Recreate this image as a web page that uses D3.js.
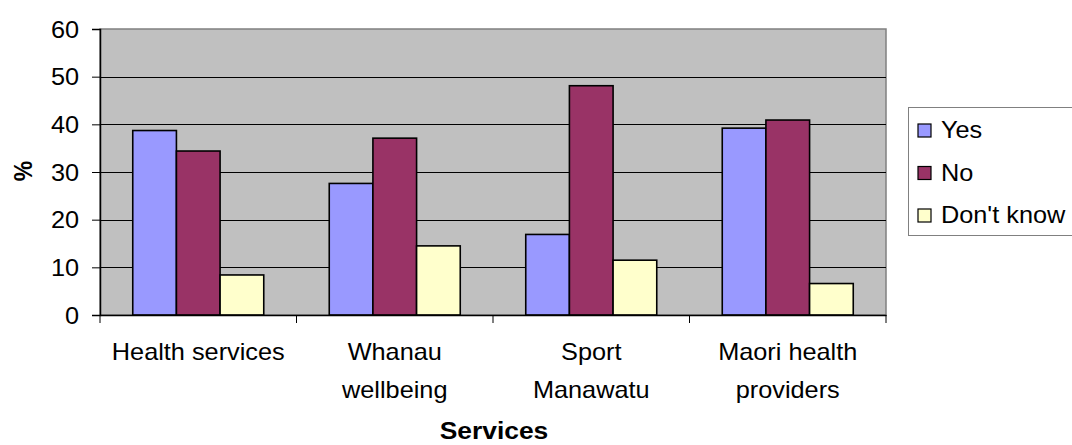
<!DOCTYPE html>
<html>
<head>
<meta charset="utf-8">
<script src="https://cdn.jsdelivr.net/npm/d3@7"></script>
<style>
  html, body { margin: 0; padding: 0; background: #fff; }
  svg text { font-family: "Liberation Sans", Arial, sans-serif; fill: #000; }
</style>
</head>
<body>
<svg id="chart" width="1072" height="445"></svg>
<script>
// Survey responses (%) by service
const categories = ["Health services", "Whanau wellbeing", "Sport Manawatu", "Maori health providers"];
const categoryLines = [["Health services"], ["Whanau", "wellbeing"], ["Sport", "Manawatu"], ["Maori health", "providers"]];
const seriesNames = ["Yes", "No", "Don't know"];
const yesValues = [38.7, 27.6, 16.9, 39.2];
const noValues = [34.4, 37.1, 48.1, 40.9];
const dontKnowValues = [8.4, 14.5, 11.5, 6.6];
const yTicks = [0, 10, 20, 30, 40, 50, 60];
const seriesColors = ["#9999FF", "#993366", "#FFFFCC"];

const series = [yesValues, noValues, dontKnowValues];
const rows = categories.map((c, i) => ({ category: c, values: series.map(s => s[i]) }));

const svg = d3.select("#chart");
const plot = { left: 100, top: 29, right: 886, bottom: 315 };
const SX = 1.1;   // horizontal text stretch
const FS = 23;    // font size

const x0 = d3.scaleBand().domain(categories).range([plot.left, plot.right]).paddingInner(0).paddingOuter(0);
// three bars take 3 of 4.5 slot units (gap width 150%)
const bw = x0.bandwidth() / 4.5;
const x1 = d3.scaleBand().domain(seriesNames).range([0.75 * bw, 3.75 * bw]).padding(0);
const y = d3.scaleLinear().domain([0, 60]).range([plot.bottom, plot.top]);

// plot background
svg.append("rect")
  .attr("x", plot.left).attr("y", plot.top)
  .attr("width", plot.right - plot.left).attr("height", plot.bottom - plot.top)
  .attr("fill", "#C0C0C0").attr("stroke", "#808080").attr("stroke-width", 1.5);

// gridlines
svg.append("g").selectAll("line")
  .data(yTicks.filter(t => t > 0 && t < 60))
  .join("line")
  .attr("x1", plot.left).attr("x2", plot.right)
  .attr("y1", d => Math.round(y(d)) + 0.5).attr("y2", d => Math.round(y(d)) + 0.5)
  .attr("stroke", "#000").attr("stroke-width", 1);

// bars
const groups = svg.append("g").selectAll("g")
  .data(rows).join("g")
  .attr("transform", d => `translate(${x0(d.category)},0)`);
groups.selectAll("rect")
  .data(d => d.values.map((v, k) => ({ key: seriesNames[k], value: v, k })))
  .join("rect")
  .attr("x", d => x1(d.key))
  .attr("y", d => y(d.value))
  .attr("width", x1.bandwidth())
  .attr("height", d => y(0) - y(d.value))
  .attr("fill", d => seriesColors[d.k])
  .attr("stroke", "#000").attr("stroke-width", 1.6);

// y axis
const yAxis = svg.append("g")
  .attr("transform", `translate(${plot.left},0)`)
  .call(d3.axisLeft(y).tickValues(yTicks).tickSize(8).tickPadding(12));
yAxis.select(".domain").attr("stroke", "#000").attr("stroke-width", 1.5);
yAxis.selectAll(".tick line").attr("stroke", "#000").attr("stroke-width", 1);
yAxis.selectAll(".tick text")
  .attr("font-size", FS)
  .attr("font-family", "Liberation Sans, Arial, sans-serif")
  .attr("x", -21 / SX)
  .attr("dy", "0.36em")
  .attr("transform", `scale(${SX},1)`);

// x axis
const xAxis = svg.append("g")
  .attr("transform", `translate(0,${plot.bottom})`)
  .call(d3.axisBottom(x0).tickSize(0).tickFormat(""));
xAxis.select(".domain").attr("stroke", "#000").attr("stroke-width", 1.5);
xAxis.selectAll(".tick").remove();
const bounds = categories.map(c => x0(c)).concat([plot.right]);
xAxis.selectAll("line.sep").data(bounds).join("line")
  .attr("class", "sep")
  .attr("x1", d => d).attr("x2", d => d)
  .attr("y1", 0).attr("y2", 8)
  .attr("stroke", "#000").attr("stroke-width", 1);

// category labels
categoryLines.forEach((lines, i) => {
  const cx = x0(categories[i]) + x0.bandwidth() / 2;
  lines.forEach((ln, j) => {
    svg.append("text")
      .attr("transform", `translate(${cx},${360 + j * 38}) scale(${SX},1)`)
      .attr("text-anchor", "middle")
      .attr("font-size", FS)
      .text(ln);
  });
});

// axis titles
svg.append("text")
  .attr("transform", `translate(${(plot.left + plot.right) / 2 + 1},439) scale(${SX},1)`)
  .attr("text-anchor", "middle")
  .attr("font-size", 24).attr("font-weight", "bold")
  .text("Services");
svg.append("text")
  .attr("transform", `translate(32,171) rotate(-90) scale(1,${SX})`)
  .attr("text-anchor", "middle")
  .attr("font-size", FS).attr("font-weight", "bold")
  .text("%");

// legend
const legend = svg.append("g");
legend.append("rect")
  .attr("x", 908.5).attr("y", 107.5).attr("width", 170).attr("height", 128)
  .attr("fill", "#fff").attr("stroke", "#808080").attr("stroke-width", 1);
const items = legend.selectAll("g.item").data(seriesNames).join("g")
  .attr("class", "item")
  .attr("transform", (d, i) => `translate(918,${130 + i * 42.5})`);
items.append("rect")
  .attr("x", 0).attr("y", -6).attr("width", 13).attr("height", 13)
  .attr("fill", (d, i) => seriesColors[i])
  .attr("stroke", "#000").attr("stroke-width", 1.2);
items.append("text")
  .attr("transform", `translate(23,0) scale(${SX},1)`)
  .attr("dy", "0.36em")
  .attr("font-size", FS)
  .text(d => d);
</script>
</body>
</html>
